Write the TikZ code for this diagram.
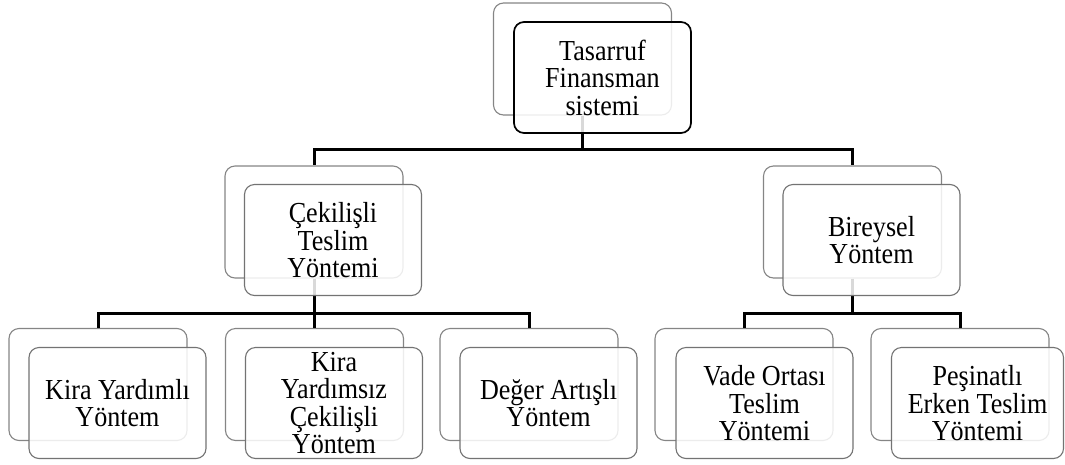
\documentclass[tikz,border=0pt]{standalone}
\usepackage{fontspec}
\setmainfont[FakeStretch=0.9]{Liberation Serif}
\begin{document}
\begin{tikzpicture}[x=1pt,y=-1pt,
  backbox/.style={draw=black!48, line width=1.1pt, fill=white, rounded corners=10pt,
    minimum width=178pt, minimum height=112pt, inner sep=0pt},
  frontbox/.style={draw=black!55, line width=1.1pt, fill=white, fill opacity=0.85,
    text opacity=1, rounded corners=10pt, minimum width=177pt, minimum height=111pt,
    align=center, inner sep=0pt, text depth=0pt, font=\fontsize{29}{27.5}\selectfont},
  rootbox/.style={frontbox, draw=black, line width=1.7pt},
  link/.style={line width=3pt, line join=miter}
]
\useasboundingbox (0,0) rectangle (1065,464);

% rear cards
\node[backbox] (b0) at (582.5,59) {};
\node[backbox] (b1) at (314,222) {};
\node[backbox] (b2) at (852.5,222) {};
\node[backbox] (b11) at (98,384.5) {};
\node[backbox] (b12) at (314.5,384.5) {};
\node[backbox] (b13) at (529,384.5) {};
\node[backbox] (b21) at (744,384.5) {};
\node[backbox] (b22) at (960,384.5) {};

% hierarchy connectors
\draw[link] (b0.south) -- (b0.south |- 0,149) -| (b1.north);
\draw[link] (b0.south) -- (b0.south |- 0,149) -| (b2.north);
\draw[link] (b1.south) -- (b1.south |- 0,313) -| (b11.north);
\draw[link] (b1.south) -- (b1.south |- 0,313) -| (b12.north);
\draw[link] (b1.south) -- (b1.south |- 0,313) -| (b13.north);
\draw[link] (b2.south) -- (b2.south |- 0,313) -| (b21.north);
\draw[link] (b2.south) -- (b2.south |- 0,313) -| (b22.north);

% front cards with labels
\node[rootbox] (f0) at (602.5,77.5) {Tasarruf\\Finansman\\sistemi};
\node[frontbox] (f1) at (333,240) {Çekilişli\\Teslim\\Yöntemi};
\node[frontbox] (f2) at (871.5,240) {Bireysel\\Yöntem};
\node[frontbox] (f11) at (117.5,403) {Kira Yardımlı\\Yöntem};
\node[frontbox] (f12) at (334,403) {Kira\\Yardımsız\\Çekilişli\\Yöntem};
\node[frontbox] (f13) at (548.5,403) {Değer Artışlı\\Yöntem};
\node[frontbox] (f21) at (764.5,403) {Vade Ortası\\Teslim\\Yöntemi};
\node[frontbox, minimum width=172pt] (f22) at (977.5,403) {Peşinatlı\\Erken Teslim\\Yöntemi};
\end{tikzpicture}
\end{document}
